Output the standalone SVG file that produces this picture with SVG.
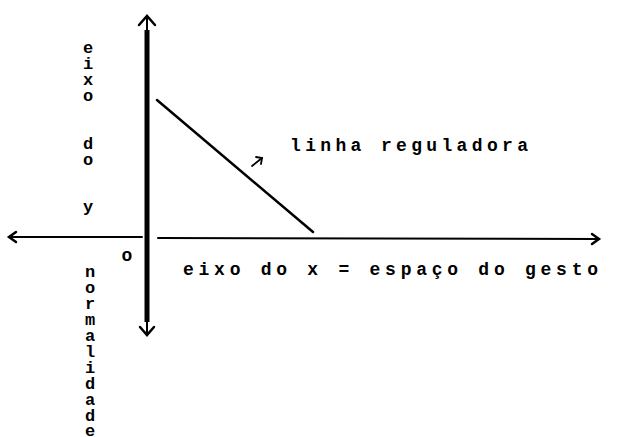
<svg xmlns="http://www.w3.org/2000/svg" width="628" height="437" viewBox="0 0 628 437">
<style>
.t{font-family:"Liberation Mono","DejaVu Sans Mono",monospace;font-size:18px;font-weight:bold;fill:#000}
.s{font-size:17px}
.v{text-anchor:middle}
.ln{stroke:#000;fill:none;stroke-linecap:round}
</style>
<rect width="628" height="437" fill="#fff"/>
<g id="connectors">
<g id="y-axis">
<line class="ln" x1="147" y1="17" x2="147" y2="335" stroke-width="2"/>
<line x1="147" y1="30" x2="147" y2="322" stroke="#000" stroke-width="5"/>
<polyline class="ln" points="139,25 147,16 155,25" stroke-width="2.5"/>
<polyline class="ln" points="140,327 147,335 154,327" stroke-width="2.5"/>
</g>
<g id="x-axis">
<line class="ln" x1="9" y1="237" x2="142" y2="237" stroke-width="2"/>
<line class="ln" x1="158" y1="238" x2="598" y2="239" stroke-width="2"/>
<polyline class="ln" points="16,232 9,237 16,242" stroke-width="2.5"/>
<polyline class="ln" points="592,234 599,239 592,244" stroke-width="2.5"/>
</g>
<g id="regulating-line">
<line class="ln" x1="157" y1="100" x2="313" y2="232" stroke-width="2.5"/>
</g>
<g id="small-arrow">
<line class="ln" x1="252" y1="166" x2="262" y2="158" stroke-width="1.8"/>
<polyline class="ln" points="256,157 262,158 261,164" stroke-width="1.8"/>
</g>
</g>
<g id="label-linha">
<text class="t" x="290" y="151" textLength="238" lengthAdjust="spacing">linha reguladora</text>
</g>
<g id="label-x">
<text class="t" x="183" y="275" textLength="415" lengthAdjust="spacing">eixo do x = espaço do gesto</text>
</g>
<g id="label-origin">
<text class="t v" x="127" y="261">o</text>
</g>
<g id="label-y">
<text class="t s v"><tspan x="88" y="53">e</tspan><tspan x="88" y="69">i</tspan><tspan x="88" y="85">x</tspan><tspan x="88" y="101">o</tspan><tspan x="88" y="117"> </tspan><tspan x="88" y="133"> </tspan><tspan x="88" y="149">d</tspan><tspan x="88" y="165">o</tspan><tspan x="88" y="181"> </tspan><tspan x="88" y="197"> </tspan><tspan x="88" y="212">y</tspan></text>
</g>
<g id="label-normalidade">
<text class="t s v"><tspan x="90" y="277">n</tspan><tspan x="90" y="293">o</tspan><tspan x="90" y="309">r</tspan><tspan x="90" y="325">m</tspan><tspan x="90" y="341">a</tspan><tspan x="90" y="357">l</tspan><tspan x="90" y="373">i</tspan><tspan x="90" y="389">d</tspan><tspan x="90" y="405">a</tspan><tspan x="90" y="421">d</tspan><tspan x="90" y="436">e</tspan></text>
</g>
</svg>
